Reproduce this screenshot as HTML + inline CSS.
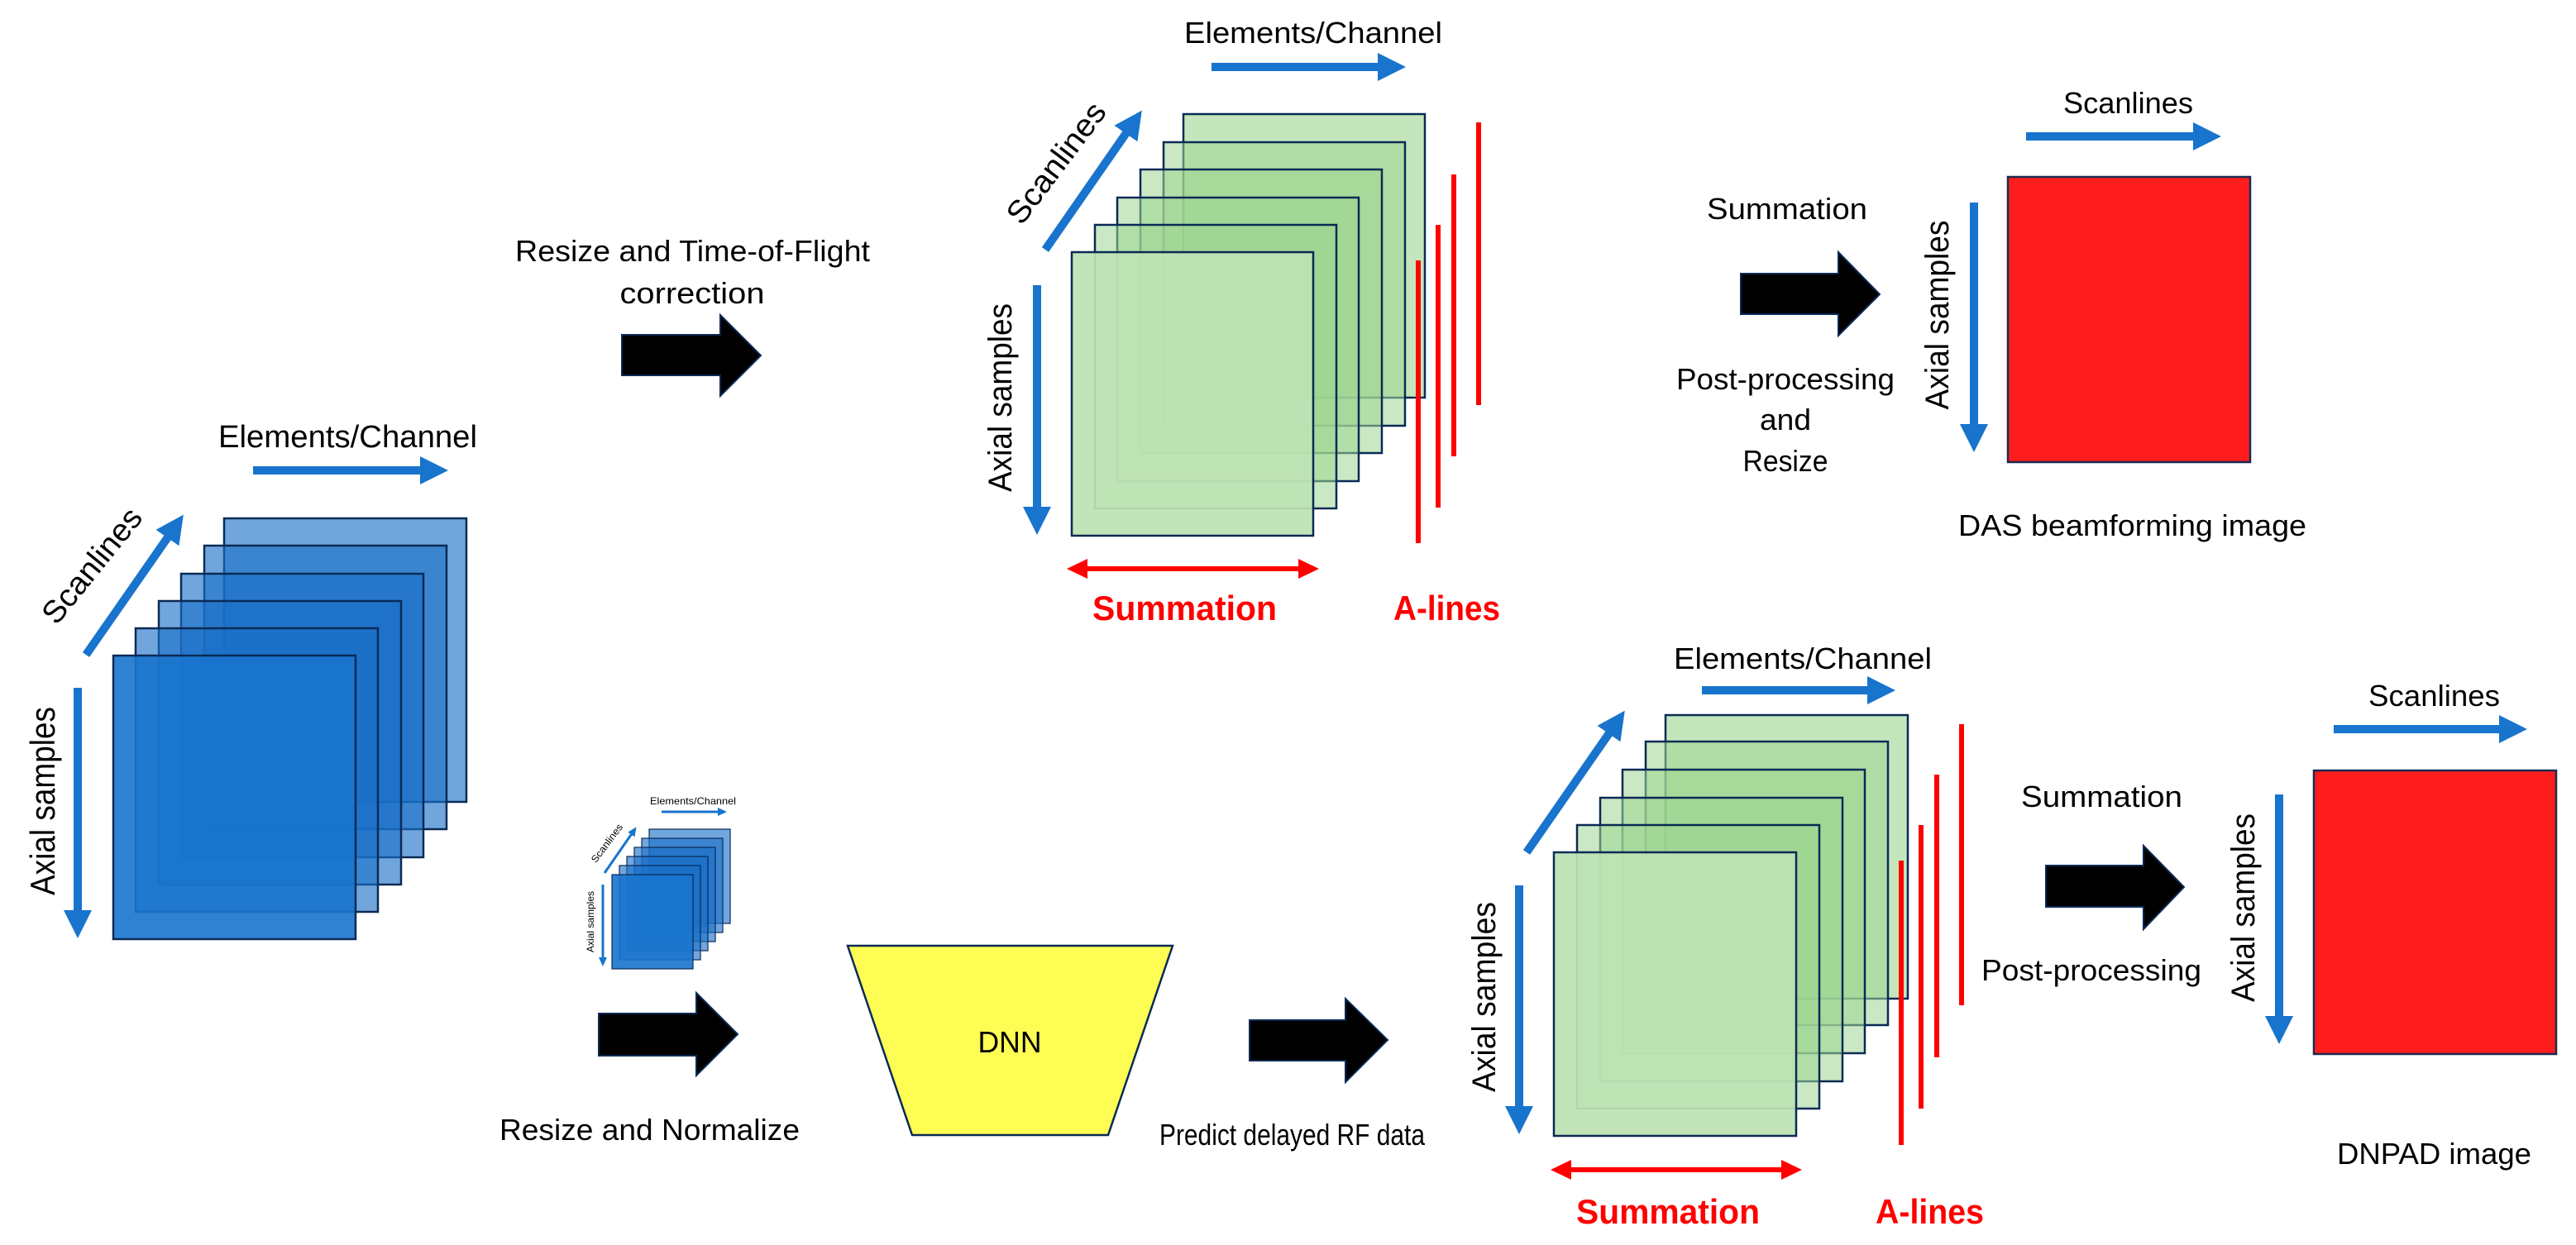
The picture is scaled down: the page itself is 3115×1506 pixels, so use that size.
<!DOCTYPE html>
<html><head><meta charset="utf-8">
<style>
html,body{margin:0;padding:0;background:#fff;}
svg{display:block;}
text{font-family:"Liberation Sans",sans-serif;fill:#000;}
</style></head>
<body>
<svg width="3115" height="1506" viewBox="0 0 3115 1506" xmlns="http://www.w3.org/2000/svg">
<defs>
<marker id="bh" markerUnits="userSpaceOnUse" markerWidth="36" markerHeight="36" refX="8" refY="17" orient="auto"><path d="M0,0 L34,17 L0,34 z" fill="#1874cd"/></marker>
<marker id="bs" markerUnits="userSpaceOnUse" markerWidth="12" markerHeight="12" refX="3" refY="5" orient="auto"><path d="M0,0 L11,5 L0,10 z" fill="#1874cd"/></marker>
<marker id="rh" markerUnits="userSpaceOnUse" markerWidth="26" markerHeight="26" refX="6" refY="12" orient="auto-start-reverse"><path d="M0,0 L25,12 L0,24 z" fill="#ff0000"/></marker>
</defs>

<!-- Left blue stack -->
<g fill="#1a70c8" fill-opacity="0.62" stroke="#0a2a55" stroke-width="2.5">
<rect x="271" y="627" width="293" height="343"/>
<rect x="247" y="660" width="293" height="343"/>
<rect x="219" y="694" width="293" height="343"/>
<rect x="192" y="727" width="293" height="343"/>
<rect x="164" y="760" width="293" height="343"/>
<rect x="137" y="793" width="293" height="343" fill="#1874cd" fill-opacity="0.9"/>
</g>
<g stroke="#1874cd" stroke-width="10" fill="none">
<line x1="306" y1="569" x2="516" y2="569" marker-end="url(#bh)"/>
<line x1="104" y1="792" x2="207" y2="644" marker-end="url(#bh)"/>
<line x1="94" y1="832" x2="94" y2="1109" marker-end="url(#bh)"/>
</g>
<text x="264" y="541" font-size="38" textLength="313" lengthAdjust="spacingAndGlyphs">Elements/Channel</text>
<text transform="translate(111,684) rotate(-51)" text-anchor="middle" dy="13" font-size="38" textLength="168" lengthAdjust="spacingAndGlyphs">Scanlines</text>
<text transform="translate(52,969) rotate(-90)" text-anchor="middle" dy="14" font-size="42" textLength="228" lengthAdjust="spacingAndGlyphs">Axial samples</text>

<!-- Small stack -->
<g fill="#1a70c8" fill-opacity="0.62" stroke="#0a2a55" stroke-width="1.2">
<rect x="785" y="1003" width="98" height="114"/>
<rect x="776" y="1014" width="98" height="114"/>
<rect x="767" y="1025" width="98" height="114"/>
<rect x="758" y="1036" width="98" height="114"/>
<rect x="749" y="1047" width="98" height="114"/>
<rect x="740" y="1058" width="98" height="114" fill="#1874cd" fill-opacity="0.9"/>
</g>
<g stroke="#1874cd" stroke-width="3" fill="none">
<line x1="800" y1="982" x2="871" y2="982" marker-end="url(#bs)"/>
<line x1="731" y1="1056" x2="765" y2="1007" marker-end="url(#bs)"/>
<line x1="729" y1="1070" x2="729" y2="1161" marker-end="url(#bs)"/>
</g>
<text x="786" y="973" font-size="12" textLength="104" lengthAdjust="spacingAndGlyphs">Elements/Channel</text>
<text transform="translate(734,1020) rotate(-53)" text-anchor="middle" dy="4" font-size="12" textLength="55" lengthAdjust="spacingAndGlyphs">Scanlines</text>
<text transform="translate(714,1115) rotate(-90)" text-anchor="middle" dy="4" font-size="12" textLength="74" lengthAdjust="spacingAndGlyphs">Axial samples</text>

<!-- Top middle -->
<text x="623" y="316" font-size="36" textLength="429" lengthAdjust="spacingAndGlyphs">Resize and Time-of-Flight</text>
<text x="837" y="367" font-size="36" text-anchor="middle" textLength="175" lengthAdjust="spacingAndGlyphs">correction</text>
<polygon points="752,405 871,405 871,381 920,430 871,479 871,454 752,454" fill="#000" stroke="#0a2a55" stroke-width="2"/>

<!-- Top green stack -->
<g stroke="#0a2a55" stroke-width="2.5">
<rect x="1431" y="138" width="292" height="343" fill="#9fd591" fill-opacity="0.6"/>
<rect x="1407" y="172" width="292" height="343" fill="#9fd591" fill-opacity="0.55"/>
<rect x="1379" y="205" width="292" height="343" fill="#9fd591" fill-opacity="0.55"/>
<rect x="1351" y="239" width="292" height="343" fill="#9fd591" fill-opacity="0.55"/>
<rect x="1324" y="272" width="292" height="343" fill="#9fd591" fill-opacity="0.55"/>
<rect x="1296" y="305" width="292" height="343" fill="#bde2b4" fill-opacity="0.93"/>
</g>
<g stroke="#1874cd" stroke-width="10" fill="none">
<line x1="1465" y1="81" x2="1674" y2="81" marker-end="url(#bh)"/>
<line x1="1264" y1="302" x2="1366" y2="155" marker-end="url(#bh)"/>
<line x1="1254" y1="345" x2="1254" y2="621" marker-end="url(#bh)"/>
</g>
<text x="1432" y="52" font-size="36" textLength="312" lengthAdjust="spacingAndGlyphs">Elements/Channel</text>
<text transform="translate(1277,197) rotate(-53)" text-anchor="middle" dy="13" font-size="38" textLength="173" lengthAdjust="spacingAndGlyphs">Scanlines</text>
<text transform="translate(1209,481) rotate(-90)" text-anchor="middle" dy="14" font-size="40" textLength="228" lengthAdjust="spacingAndGlyphs">Axial samples</text>
<g stroke="#ff0000" stroke-width="6">
<line x1="1715" y1="315" x2="1715" y2="657"/>
<line x1="1739" y1="272" x2="1739" y2="614"/>
<line x1="1758" y1="211" x2="1758" y2="552"/>
<line x1="1788" y1="148" x2="1788" y2="490"/>
<line x1="1309" y1="688" x2="1576" y2="688" marker-start="url(#rh)" marker-end="url(#rh)"/>
</g>
<text x="1321" y="750" font-size="42" font-weight="bold" style="fill:#ff0000" textLength="223" lengthAdjust="spacingAndGlyphs">Summation</text>
<text x="1685" y="750" font-size="42" font-weight="bold" style="fill:#ff0000" textLength="129" lengthAdjust="spacingAndGlyphs">A-lines</text>

<!-- DAS -->
<text x="2064" y="265" font-size="36" textLength="194" lengthAdjust="spacingAndGlyphs">Summation</text>
<polygon points="2105,331 2223,331 2223,305 2273,356 2223,406 2223,380 2105,380" fill="#000" stroke="#0a2a55" stroke-width="2"/>
<text x="2027" y="471" font-size="36" textLength="264" lengthAdjust="spacingAndGlyphs">Post-processing</text>
<text x="2159" y="520" font-size="36" text-anchor="middle" textLength="62" lengthAdjust="spacingAndGlyphs">and</text>
<text x="2159" y="570" font-size="36" text-anchor="middle" textLength="103" lengthAdjust="spacingAndGlyphs">Resize</text>
<text x="2495" y="137" font-size="36" textLength="157" lengthAdjust="spacingAndGlyphs">Scanlines</text>
<rect x="2428" y="214" width="293" height="345" fill="#ff1c1c" stroke="#1a2a50" stroke-width="2.5"/>
<g stroke="#1874cd" stroke-width="10" fill="none">
<line x1="2450" y1="165" x2="2660" y2="165" marker-end="url(#bh)"/>
<line x1="2387" y1="245" x2="2387" y2="521" marker-end="url(#bh)"/>
</g>
<text transform="translate(2342,381) rotate(-90)" text-anchor="middle" dy="14" font-size="40" textLength="229" lengthAdjust="spacingAndGlyphs">Axial samples</text>
<text x="2368" y="648" font-size="36" textLength="421" lengthAdjust="spacingAndGlyphs">DAS beamforming image</text>

<!-- Bottom middle -->
<polygon points="724,1226 842,1226 842,1201 892,1251 842,1301 842,1277 724,1277" fill="#000" stroke="#0a2a55" stroke-width="2"/>
<text x="604" y="1379" font-size="36" textLength="363" lengthAdjust="spacingAndGlyphs">Resize and Normalize</text>
<polygon points="1025,1144 1418,1144 1340,1373 1103,1373" fill="#fdfd54" stroke="#0a2a55" stroke-width="2.5"/>
<text x="1221" y="1273" font-size="36" text-anchor="middle" textLength="77" lengthAdjust="spacingAndGlyphs">DNN</text>
<polygon points="1511,1234 1627,1234 1627,1208 1678,1258 1627,1309 1627,1283 1511,1283" fill="#000" stroke="#0a2a55" stroke-width="2"/>
<text x="1402" y="1385" font-size="36" textLength="321" lengthAdjust="spacingAndGlyphs">Predict delayed RF data</text>

<!-- Bottom green stack -->
<g stroke="#0a2a55" stroke-width="2.5">
<rect x="2014" y="865" width="293" height="343" fill="#9fd591" fill-opacity="0.6"/>
<rect x="1990" y="897" width="293" height="343" fill="#9fd591" fill-opacity="0.55"/>
<rect x="1962" y="931" width="293" height="343" fill="#9fd591" fill-opacity="0.55"/>
<rect x="1935" y="965" width="293" height="343" fill="#9fd591" fill-opacity="0.55"/>
<rect x="1907" y="998" width="293" height="343" fill="#9fd591" fill-opacity="0.55"/>
<rect x="1879" y="1031" width="293" height="343" fill="#bde2b4" fill-opacity="0.93"/>
</g>
<g stroke="#1874cd" stroke-width="10" fill="none">
<line x1="2058" y1="835" x2="2266" y2="835" marker-end="url(#bh)"/>
<line x1="1846" y1="1031" x2="1950" y2="881" marker-end="url(#bh)"/>
<line x1="1837" y1="1071" x2="1837" y2="1346" marker-end="url(#bh)"/>
</g>
<text x="2024" y="809" font-size="36" textLength="312" lengthAdjust="spacingAndGlyphs">Elements/Channel</text>
<text transform="translate(1794,1206) rotate(-90)" text-anchor="middle" dy="14" font-size="40" textLength="230" lengthAdjust="spacingAndGlyphs">Axial samples</text>
<g stroke="#ff0000" stroke-width="6">
<line x1="2299" y1="1041" x2="2299" y2="1385"/>
<line x1="2323" y1="998" x2="2323" y2="1341"/>
<line x1="2342" y1="937" x2="2342" y2="1279"/>
<line x1="2372" y1="876" x2="2372" y2="1216"/>
<line x1="1894" y1="1415" x2="2160" y2="1415" marker-start="url(#rh)" marker-end="url(#rh)"/>
</g>
<text x="1906" y="1480" font-size="42" font-weight="bold" style="fill:#ff0000" textLength="222" lengthAdjust="spacingAndGlyphs">Summation</text>
<text x="2268" y="1480" font-size="42" font-weight="bold" style="fill:#ff0000" textLength="131" lengthAdjust="spacingAndGlyphs">A-lines</text>

<!-- DNPAD -->
<text x="2444" y="976" font-size="36" textLength="195" lengthAdjust="spacingAndGlyphs">Summation</text>
<polygon points="2474,1047 2592,1047 2592,1023 2641,1073 2592,1124 2592,1097 2474,1097" fill="#000" stroke="#0a2a55" stroke-width="2"/>
<text x="2396" y="1186" font-size="36" textLength="266" lengthAdjust="spacingAndGlyphs">Post-processing</text>
<text x="2864" y="854" font-size="36" textLength="159" lengthAdjust="spacingAndGlyphs">Scanlines</text>
<rect x="2798" y="932" width="293" height="343" fill="#ff1c1c" stroke="#1a2a50" stroke-width="2.5"/>
<g stroke="#1874cd" stroke-width="10" fill="none">
<line x1="2822" y1="882" x2="3030" y2="882" marker-end="url(#bh)"/>
<line x1="2756" y1="961" x2="2756" y2="1237" marker-end="url(#bh)"/>
</g>
<text transform="translate(2712,1098) rotate(-90)" text-anchor="middle" dy="14" font-size="40" textLength="228" lengthAdjust="spacingAndGlyphs">Axial samples</text>
<text x="2826" y="1408" font-size="36" textLength="235" lengthAdjust="spacingAndGlyphs">DNPAD image</text>
</svg>
</body></html>
